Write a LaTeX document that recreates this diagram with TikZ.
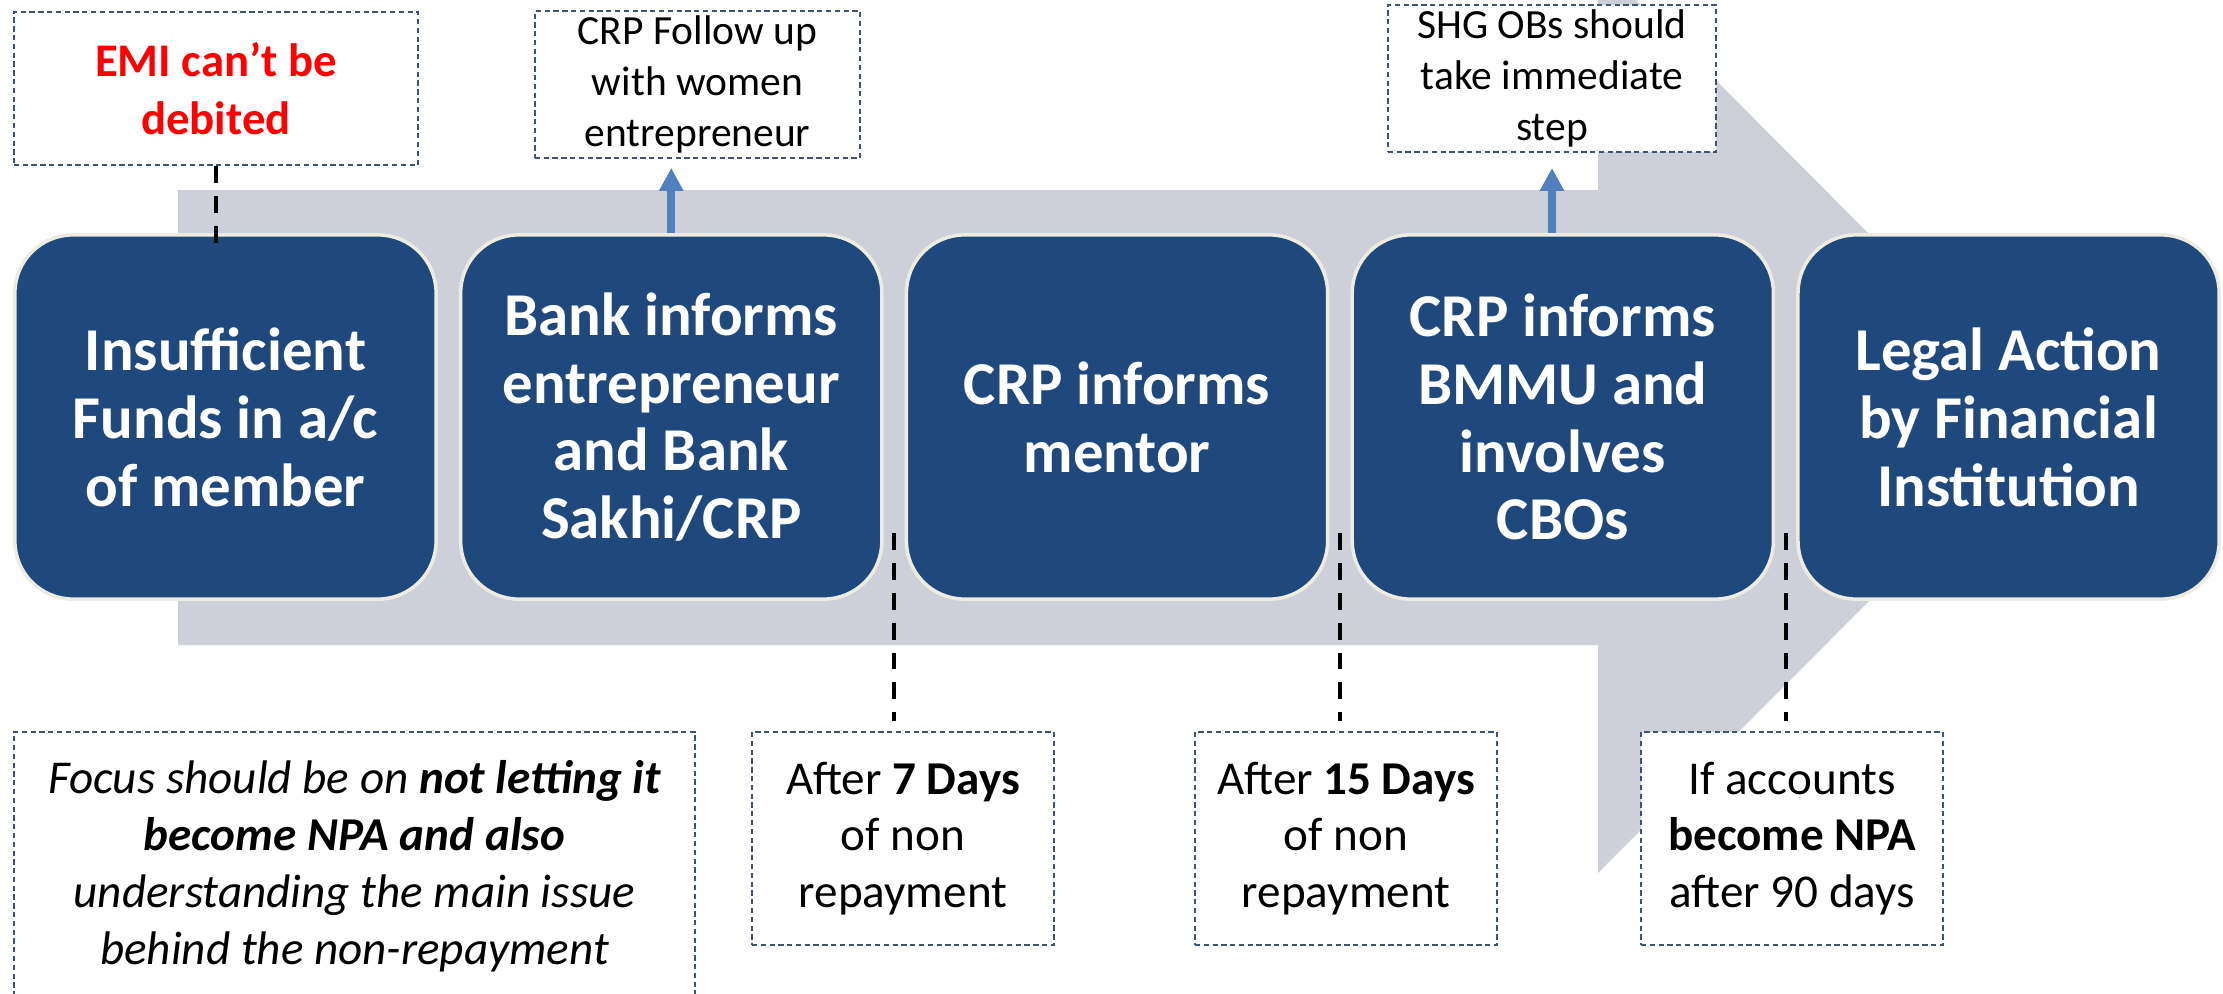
\documentclass[tikz,border=0pt]{standalone}
\usepackage{fontspec}
\setmainfont{Carlito}
\usepackage{xcolor}
\definecolor{band-gray}{HTML}{CDD0D9}
\definecolor{step-blue}{HTML}{1F497D}
\definecolor{step-rim}{HTML}{EEECE1}
\definecolor{up-blue}{HTML}{4F81BD}
\definecolor{note-rim}{HTML}{3E5475}
\usepackage{tikz}
\usetikzlibrary{chains}
\usetikzlibrary{positioning}
\usetikzlibrary{calc}
\usetikzlibrary{arrows.meta}
\tikzset{stepbox/.style = {draw=step-rim, line width=1pt, fill=step-blue, rounded corners=0.58cm, on chain, align=center, text centered, text=white, minimum width=4.21cm, minimum height=3.64cm, inner sep=0pt, font=\fontsize{17.3}{19.3}\selectfont\bfseries}}
\tikzset{notebox/.style = {draw=note-rim, line width=0.5pt, dash pattern=on 1.5pt off 1pt, fill=white, align=center, text centered, inner sep=0pt}}
\tikzset{topnote/.style = {notebox, font=\fontsize{11.8}{14.4}\selectfont}}
\tikzset{lownote/.style = {notebox, font=\fontsize{13.4}{16.1}\selectfont, minimum width=3.02cm, minimum height=2.13cm}}
\tikzset{link/.style = {line width=1.1pt, dash pattern=on 4.8pt off 3.7pt}}
\tikzset{uparr/.style = {draw=up-blue, line width=2.3pt, -{Triangle[width=6.5pt,length=6.5pt]}}}

\begin{document}
\begin{tikzpicture}[x=0.01cm, y=-0.01cm,
  start chain = going right,
  node distance = 0.21cm
]
\useasboundingbox (0,0) rectangle (2223,994);
\clip (0,0) rectangle (2223,994);

% big arrow behind the steps
\fill[band-gray] (178,190) -- (1598,190) -- (1598,-38) -- (2052,417.5) -- (1598,873) -- (1598,645) -- (178,645) -- cycle;

\node[stepbox] (s1) at (225.5,417) {Insufficient\\Funds in a/c\\of member};
\node[stepbox] (s2) {Bank informs\\entrepreneur\\and Bank\\Sakhi/CRP};
\node[stepbox] (s3) {CRP informs\\mentor};
\node[stepbox] (s4) {CRP informs\\BMMU and\\involves\\CBOs};
\node[stepbox] (s5) {Legal Action\\by Financial\\Institution};

\node[notebox, font=\fontsize{13.3}{16.5}\selectfont\bfseries, text=red, minimum width=4.04cm, minimum height=1.53cm] (t1) at (216,88.5) {EMI can’t be\\debited};
\node[topnote, minimum width=3.25cm, minimum height=1.47cm] (t2) at (697.5,84.5) {CRP Follow up\\with women\\entrepreneur};
\node[topnote, minimum width=3.28cm, minimum height=1.47cm] (t3) at (1552,78.5) {SHG OBs should\\take immediate\\step};

\node[notebox, font=\fontsize{13.4}{16.2}\selectfont\itshape, minimum width=6.81cm, minimum height=2.68cm] (n1) at (354.5,866) {Focus should be on \textbf{not letting it}\\\textbf{become NPA and also}\\understanding the main issue\\behind the non-repayment};
\node[lownote] (n2) at (903,838.5) {After \textbf{7 Days}\\of non\\repayment};
\node[lownote] (n3) at (1346,838.5) {After \textbf{15 Days}\\of non\\repayment};
\node[lownote] (n4) at (1792,838.5) {If accounts\\\textbf{become NPA}\\after 90 days};

% gaps between the steps
\coordinate (g1) at ($(s2.east)!.5!(s3.west)$);
\coordinate (g2) at ($(s3.east)!.5!(s4.west)$);
\coordinate (g3) at ($(s4.east)!.5!(s5.west)$);

\draw[link] (t1.south) -- ($(t1.south |- s1.north)+(0,20)$);
\draw[link] ($(g1)+(0,116)$) -- ($(g1 |- n2.north)+(0,-10)$);
\draw[link] ($(g2)+(0,116)$) -- ($(g2 |- n3.north)+(0,-10)$);
\draw[link] ($(g3)+(0,116)$) -- ($(g3 |- n4.north)+(0,-10)$);

\draw[uparr] (s2.north) -- ($(s2.north |- t2.south)+(0,9)$);
\draw[uparr] (t3.south |- s4.north) -- ($(t3.south)+(0,15)$);

\end{tikzpicture}
\end{document}
